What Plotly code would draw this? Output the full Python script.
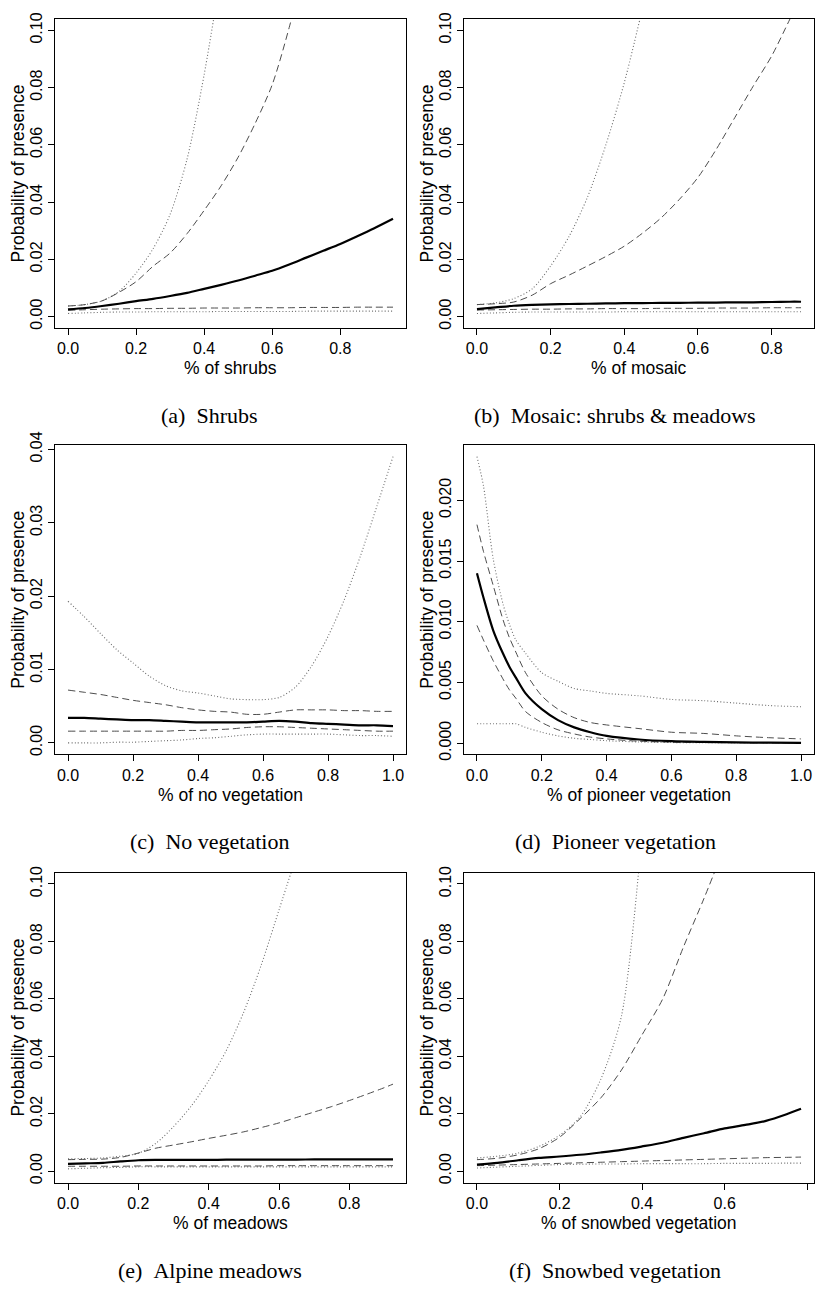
import plotly.graph_objects as go

# ---------------------------------------------------------------------------
# Response curves: fitted probability (solid), inner band (dashed),
# outer band (dotted) for six land-cover predictors.
# ---------------------------------------------------------------------------

# (a) Shrubs
SHRUBS_X = [0, 0.05, 0.1, 0.15, 0.2, 0.25, 0.3, 0.35, 0.4, 0.45, 0.5, 0.55,
            0.6, 0.65, 0.7, 0.75, 0.8, 0.85, 0.9, 0.955]
SHRUBS_FIT = [0.0025, 0.0030, 0.0037, 0.0045, 0.0054, 0.0062, 0.0072, 0.0083,
              0.0097, 0.0111, 0.0126, 0.0143, 0.0160, 0.0182, 0.0206, 0.0230,
              0.0254, 0.0281, 0.0309, 0.0342]
SHRUBS_DASH_HI = [0.0037, 0.0042, 0.0055, 0.0085, 0.0122, 0.0176, 0.0222,
                  0.0290, 0.0371, 0.0457, 0.0557, 0.0675, 0.0810, 0.1010,
                  0.1250, None, None, None, None, None]
SHRUBS_DASH_LO = [0.0022, 0.0024, 0.0026, 0.0027, 0.0028, 0.0028, 0.0029,
                  0.0029, 0.0030, 0.0030, 0.0030, 0.0031, 0.0031, 0.0031,
                  0.0032, 0.0032, 0.0032, 0.0033, 0.0033, 0.0033]
SHRUBS_DOT_HI = [0.0037, 0.0042, 0.0055, 0.0088, 0.0152, 0.0237, 0.0357,
                 0.0551, 0.0845, 0.1200, None, None, None, None, None, None,
                 None, None, None, None]
SHRUBS_DOT_LO = [0.0011, 0.0013, 0.0015, 0.0016, 0.0016, 0.0017, 0.0017,
                 0.0017, 0.0017, 0.0018, 0.0018, 0.0018, 0.0018, 0.0018,
                 0.0019, 0.0019, 0.0019, 0.0019, 0.0019, 0.0019]

# (b) Mosaic: shrubs & meadows
MOSAIC_X = [0, 0.05, 0.1, 0.15, 0.2, 0.25, 0.3, 0.35, 0.4, 0.45, 0.5, 0.55,
            0.6, 0.65, 0.7, 0.75, 0.8, 0.85, 0.88]
MOSAIC_FIT = [0.0026, 0.0032, 0.0038, 0.0041, 0.0043, 0.0044, 0.0045, 0.0046,
              0.0047, 0.0047, 0.0048, 0.0048, 0.0049, 0.0049, 0.0050, 0.0050,
              0.0051, 0.0052, 0.0052]
MOSAIC_DASH_HI = [0.0042, 0.0045, 0.0051, 0.0075, 0.0115, 0.0145, 0.0177,
                  0.0210, 0.0246, 0.0292, 0.0345, 0.0410, 0.0486, 0.0585,
                  0.0695, 0.0805, 0.0910, 0.1040, 0.1120]
MOSAIC_DASH_LO = [0.0023, 0.0024, 0.0025, 0.0026, 0.0026, 0.0027, 0.0027,
                  0.0028, 0.0028, 0.0028, 0.0029, 0.0029, 0.0029, 0.0030,
                  0.0030, 0.0030, 0.0031, 0.0031, 0.0031]
MOSAIC_DOT_HI = [0.0042, 0.0048, 0.0063, 0.0097, 0.0177, 0.0280, 0.0417,
                 0.0600, 0.0817, 0.1080, None, None, None, None, None, None,
                 None, None, None]
MOSAIC_DOT_LO = [0.0011, 0.0013, 0.0015, 0.0016, 0.0016, 0.0016, 0.0016,
                 0.0016, 0.0017, 0.0017, 0.0017, 0.0017, 0.0017, 0.0017,
                 0.0017, 0.0017, 0.0017, 0.0017, 0.0017]

# (c) No vegetation
NOVEG_X = [0, 0.05, 0.1, 0.15, 0.2, 0.25, 0.3, 0.35, 0.4, 0.45, 0.5, 0.55,
           0.6, 0.65, 0.7, 0.75, 0.8, 0.85, 0.9, 0.95, 1.0]
NOVEG_FIT = [0.0034, 0.0034, 0.0033, 0.0032, 0.0031, 0.0031, 0.0030, 0.0029,
             0.0028, 0.0028, 0.0028, 0.0028, 0.0029, 0.0030, 0.0029, 0.0027,
             0.0026, 0.0025, 0.0024, 0.0024, 0.0023]
NOVEG_DASH_HI = [0.0072, 0.0069, 0.0066, 0.0062, 0.0058, 0.0055, 0.0052,
                 0.0048, 0.0045, 0.0043, 0.0042, 0.0039, 0.0039, 0.0042,
                 0.0045, 0.0045, 0.0045, 0.0044, 0.0044, 0.0043, 0.0043]
NOVEG_DASH_LO = [0.0016, 0.0016, 0.0016, 0.0016, 0.0016, 0.0016, 0.0016,
                 0.0017, 0.0017, 0.0018, 0.0019, 0.0021, 0.0022, 0.0022,
                 0.0021, 0.0020, 0.0019, 0.0018, 0.0017, 0.0016, 0.0016]
NOVEG_DOT_HI = [0.0193, 0.0172, 0.0149, 0.0127, 0.0109, 0.0091, 0.0078,
                0.0071, 0.0068, 0.0064, 0.0060, 0.0059, 0.0059, 0.0062,
                0.0076, 0.0105, 0.0145, 0.0195, 0.0255, 0.0322, 0.0390]
NOVEG_DOT_LO = [0.0000, 0.0000, 0.0000, 0.0001, 0.0001, 0.0002, 0.0003,
                0.0004, 0.0006, 0.0007, 0.0009, 0.0011, 0.0012, 0.0012,
                0.0012, 0.0012, 0.0012, 0.0011, 0.0010, 0.0010, 0.0009]

# (d) Pioneer vegetation
PIONEER_X = [0, 0.02, 0.05, 0.08, 0.1, 0.12, 0.15, 0.2, 0.25, 0.3, 0.35, 0.4,
             0.5, 0.6, 0.7, 0.8, 0.9, 1.0]
PIONEER_FIT = [0.0140, 0.0120, 0.0093, 0.0074, 0.0063, 0.0054, 0.0041,
               0.0028, 0.0019, 0.0013, 0.0009, 0.0006, 0.0003, 0.00016,
               0.00010, 0.00006, 0.00004, 0.00003]
PIONEER_DASH_HI = [0.0180, 0.0158, 0.0130, 0.0102, 0.0087, 0.0075, 0.0058,
                   0.0039, 0.0028, 0.0021, 0.0017, 0.0015, 0.0012, 0.0009,
                   0.0008, 0.0006, 0.00045, 0.00035]
PIONEER_DASH_LO = [0.0097, 0.0085, 0.0068, 0.0053, 0.0044, 0.0037, 0.0026,
                   0.0017, 0.0011, 0.00076, 0.0005, 0.00035, 0.00016,
                   0.00008, 0.00005, 0.00004, 0.00003, 0.00002]
PIONEER_DOT_HI = [0.0236, 0.0212, 0.0152, 0.0115, 0.0098, 0.0085, 0.0074,
                  0.0058, 0.0051, 0.0045, 0.0043, 0.0041, 0.0039, 0.0036,
                  0.0035, 0.0033, 0.0031, 0.0030]
PIONEER_DOT_LO = [0.0016, 0.0016, 0.0016, 0.0016, 0.0016, 0.0016, 0.0013,
                  0.0009, 0.0006, 0.0004, 0.0003, 0.0002, 0.0001, 0.00005,
                  0.00003, 0.00003, 0.00003, 0.00003]

# (e) Alpine meadows
MEADOWS_X = [0, 0.05, 0.1, 0.15, 0.2, 0.25, 0.3, 0.35, 0.4, 0.45, 0.5, 0.55,
             0.6, 0.65, 0.7, 0.75, 0.8, 0.85, 0.9, 0.924]
MEADOWS_FIT = [0.0025, 0.0027, 0.0029, 0.0034, 0.0038, 0.0039, 0.0039,
               0.0039, 0.0039, 0.0040, 0.0040, 0.0040, 0.0040, 0.0040,
               0.0041, 0.0041, 0.0041, 0.0041, 0.0041, 0.0041]
MEADOWS_DASH_HI = [0.0040, 0.0041, 0.0042, 0.0048, 0.0063, 0.0080, 0.0091,
                   0.0102, 0.0114, 0.0125, 0.0137, 0.0152, 0.0168, 0.0187,
                   0.0206, 0.0225, 0.0246, 0.0268, 0.0291, 0.0303]
MEADOWS_DASH_LO = [0.0017, 0.0017, 0.0017, 0.0017, 0.0018, 0.0018, 0.0018,
                   0.0018, 0.0018, 0.0018, 0.0018, 0.0018, 0.0019, 0.0019,
                   0.0019, 0.0019, 0.0019, 0.0019, 0.0019, 0.0019]
MEADOWS_DOT_HI = [0.0043, 0.0044, 0.0046, 0.0052, 0.0062, 0.0097, 0.0155,
                  0.0226, 0.0315, 0.0420, 0.0555, 0.0720, 0.0910, 0.1100,
                  None, None, None, None, None, None]
MEADOWS_DOT_LO = [0.0008, 0.0010, 0.0012, 0.0013, 0.0015, 0.0015, 0.0015,
                  0.0015, 0.0015, 0.0015, 0.0015, 0.0015, 0.0015, 0.0015,
                  0.0015, 0.0015, 0.0015, 0.0015, 0.0015, 0.0015]

# (f) Snowbed vegetation
SNOWBED_X = [0, 0.05, 0.1, 0.15, 0.2, 0.25, 0.3, 0.35, 0.4, 0.45, 0.5, 0.55,
             0.6, 0.65, 0.7, 0.75, 0.785]
SNOWBED_FIT = [0.0023, 0.0029, 0.0038, 0.0046, 0.0051, 0.0057, 0.0065,
               0.0074, 0.0086, 0.0099, 0.0116, 0.0132, 0.0149, 0.0161,
               0.0175, 0.0198, 0.0217]
SNOWBED_DASH_HI = [0.0040, 0.0045, 0.0057, 0.0078, 0.0118, 0.0183, 0.0255,
                   0.0352, 0.0475, 0.0600, 0.0780, 0.0950, 0.1130, None,
                   None, None, None]
SNOWBED_DASH_LO = [0.0019, 0.0021, 0.0023, 0.0025, 0.0027, 0.0029, 0.0031,
                   0.0033, 0.0035, 0.0037, 0.0039, 0.0041, 0.0043, 0.0045,
                   0.0047, 0.0048, 0.0049]
SNOWBED_DOT_HI = [0.0046, 0.0052, 0.0063, 0.0086, 0.0125, 0.0189, 0.0320,
                  0.0540, 0.1180, None, None, None, None, None, None, None,
                  None]
SNOWBED_DOT_LO = [0.0011, 0.0014, 0.0017, 0.0020, 0.0023, 0.0024, 0.0025,
                  0.0025, 0.0026, 0.0026, 0.0026, 0.0026, 0.0027, 0.0027,
                  0.0027, 0.0028, 0.0028]

# Axis tick labels
TICKS_08 = [0.0, 0.2, 0.4, 0.6, 0.8]
TICKS_08_TEXT = ["0.0", "0.2", "0.4", "0.6", "0.8"]
TICKS_10 = [0.0, 0.2, 0.4, 0.6, 0.8, 1.0]
TICKS_10_TEXT = ["0.0", "0.2", "0.4", "0.6", "0.8", "1.0"]
P_TICKS_010 = [0.00, 0.02, 0.04, 0.06, 0.08, 0.10]
P_TICKS_010_TEXT = ["0.00", "0.02", "0.04", "0.06", "0.08", "0.10"]
P_TICKS_004 = [0.00, 0.01, 0.02, 0.03, 0.04]
P_TICKS_004_TEXT = ["0.00", "0.01", "0.02", "0.03", "0.04"]
P_TICKS_002 = [0.000, 0.005, 0.010, 0.015, 0.020]
P_TICKS_002_TEXT = ["0.000", "0.005", "0.010", "0.015", "0.020"]

X_TITLES = ["% of shrubs", "% of mosaic", "% of no vegetation",
            "% of pioneer vegetation", "% of meadows",
            "% of snowbed vegetation"]
CAPTIONS = ["(a)\u2002Shrubs", "(b)\u2002Mosaic: shrubs & meadows",
            "(c)\u2002No vegetation", "(d)\u2002Pioneer vegetation",
            "(e)\u2002Alpine meadows", "(f)\u2002Snowbed vegetation"]
Y_TITLE = "Probability of presence"

panels = [
    dict(x=SHRUBS_X, fit=SHRUBS_FIT, dhi=SHRUBS_DASH_HI, dlo=SHRUBS_DASH_LO,
         thi=SHRUBS_DOT_HI, tlo=SHRUBS_DOT_LO, ylim=(0, 0.1),
         xt=(TICKS_08, TICKS_08_TEXT), yt=(P_TICKS_010, P_TICKS_010_TEXT)),
    dict(x=MOSAIC_X, fit=MOSAIC_FIT, dhi=MOSAIC_DASH_HI, dlo=MOSAIC_DASH_LO,
         thi=MOSAIC_DOT_HI, tlo=MOSAIC_DOT_LO, ylim=(0, 0.1),
         xt=(TICKS_08, TICKS_08_TEXT), yt=(P_TICKS_010, P_TICKS_010_TEXT)),
    dict(x=NOVEG_X, fit=NOVEG_FIT, dhi=NOVEG_DASH_HI, dlo=NOVEG_DASH_LO,
         thi=NOVEG_DOT_HI, tlo=NOVEG_DOT_LO, ylim=None,
         xt=(TICKS_10, TICKS_10_TEXT), yt=(P_TICKS_004, P_TICKS_004_TEXT)),
    dict(x=PIONEER_X, fit=PIONEER_FIT, dhi=PIONEER_DASH_HI,
         dlo=PIONEER_DASH_LO, thi=PIONEER_DOT_HI, tlo=PIONEER_DOT_LO,
         ylim=None, xt=(TICKS_10, TICKS_10_TEXT),
         yt=(P_TICKS_002, P_TICKS_002_TEXT)),
    dict(x=MEADOWS_X, fit=MEADOWS_FIT, dhi=MEADOWS_DASH_HI,
         dlo=MEADOWS_DASH_LO, thi=MEADOWS_DOT_HI, tlo=MEADOWS_DOT_LO,
         ylim=(0, 0.1), xt=(TICKS_08, TICKS_08_TEXT),
         yt=(P_TICKS_010, P_TICKS_010_TEXT)),
    dict(x=SNOWBED_X, fit=SNOWBED_FIT, dhi=SNOWBED_DASH_HI,
         dlo=SNOWBED_DASH_LO, thi=SNOWBED_DOT_HI, tlo=SNOWBED_DOT_LO,
         ylim=(0, 0.1), xt=(TICKS_08, TICKS_08_TEXT),
         yt=(P_TICKS_010, P_TICKS_010_TEXT)),
]

W, H = 816, 1292
SANS = "Liberation Sans, Arial, Helvetica, sans-serif"
SERIF = "Liberation Serif, Times New Roman, serif"

# Plot boxes in pixels: (left, right) per column, (top, bottom) per row
COLS = [(55, 406), (464, 814)]
ROWS = [(5, 319), (438, 752), (872, 1187)]
CAPTION_X = [210, 615]


def padded(lo, hi, frac=0.04):
    span = hi - lo
    return [lo - frac * span, hi + frac * span]


fig = go.Figure()
annotations = []
layout_axes = {}

DOT = dict(color="#6c6c6c", width=1.1, dash="1px,2.2px",
           shape="spline", smoothing=0.8)
DASH = dict(color="#4d4d4d", width=1.0, dash="7px,4px",
            shape="spline", smoothing=0.8)
SOLID = dict(color="black", width=2.2, shape="spline", smoothing=0.8)

for i, p in enumerate(panels):
    suffix = "" if i == 0 else str(i + 1)
    xa, ya = "x" + suffix, "y" + suffix
    col, row = i % 2, i // 2
    left, right = COLS[col]
    top, bottom = ROWS[row]

    styles = [(p["thi"], DOT), (p["tlo"], DOT), (p["dhi"], DASH),
              (p["dlo"], DASH), (p["fit"], SOLID)]
    for ys, line in styles:
        fig.add_trace(go.Scatter(
            x=p["x"], y=ys, xaxis=xa, yaxis=ya, mode="lines", line=line,
            connectgaps=False, showlegend=False, hoverinfo="skip"))

    if p["ylim"] is None:
        vals = [v for s in (p["fit"], p["dhi"], p["dlo"], p["thi"], p["tlo"])
                for v in s if v is not None]
        yrange = padded(min(vals), max(vals))
    else:
        yrange = padded(*p["ylim"])
    xrange = padded(min(p["x"]), max(p["x"]))

    common = dict(showline=True, linecolor="black", linewidth=1, mirror=True,
                  ticks="outside", ticklen=6, tickwidth=1, tickcolor="black",
                  showgrid=False, zeroline=False,
                  tickfont=dict(family=SANS, size=16, color="black"))
    layout_axes["xaxis" + suffix] = dict(
        common, domain=[left / W, right / W], range=xrange, anchor=ya,
        tickmode="array", tickvals=p["xt"][0], ticktext=p["xt"][1])
    layout_axes["yaxis" + suffix] = dict(
        common, domain=[1 - bottom / H, 1 - top / H], range=yrange,
        anchor=xa, tickmode="array", tickvals=p["yt"][0],
        ticktext=p["yt"][1], tickangle=-90)

    annotations.append(dict(
        text=X_TITLES[i], xref="paper", yref="paper",
        x=(left + right) / 2 / W, y=1 - (bottom + 41) / H,
        xanchor="center", yanchor="middle", showarrow=False,
        font=dict(family=SANS, size=17.5, color="black")))
    annotations.append(dict(
        text=Y_TITLE, xref="paper", yref="paper",
        x=(left - 37) / W, y=1 - (top + bottom) / 2 / H, textangle=-90,
        xanchor="center", yanchor="middle", showarrow=False,
        font=dict(family=SANS, size=17.5, color="black")))
    annotations.append(dict(
        text=CAPTIONS[i], xref="paper", yref="paper",
        x=CAPTION_X[col] / W, y=1 - (bottom + 89) / H,
        xanchor="center", yanchor="middle", showarrow=False,
        font=dict(family=SERIF, size=22, color="black")))

fig.update_layout(
    width=W, height=H, margin=dict(l=0, r=0, t=0, b=0),
    paper_bgcolor="white", plot_bgcolor="white",
    annotations=annotations, **layout_axes)

fig.write_html("out.html")
